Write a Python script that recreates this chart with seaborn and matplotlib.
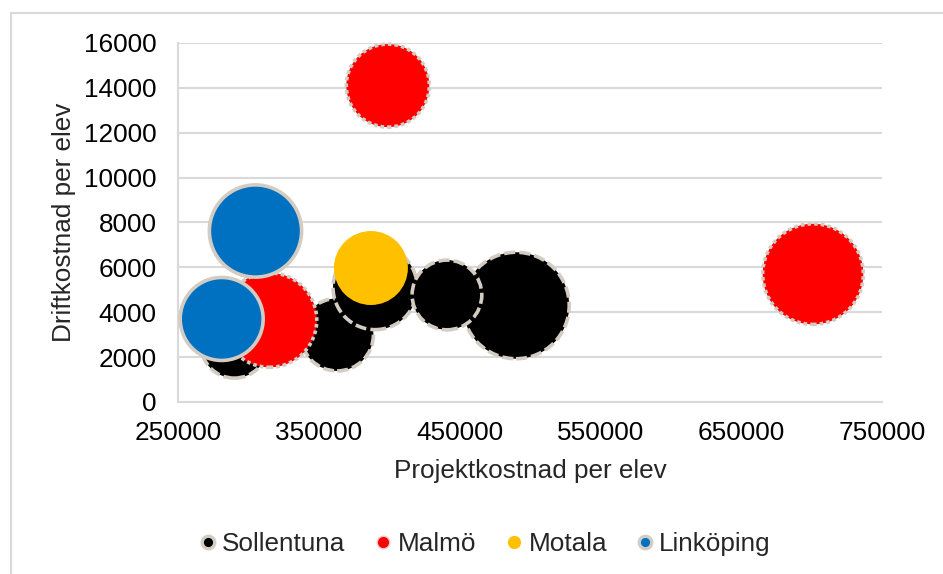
import matplotlib
matplotlib.use("Agg")
import matplotlib.pyplot as plt
from matplotlib.lines import Line2D
import seaborn as sns
import pandas as pd

# Project cost per pupil (x), running cost per pupil (y) and pupil count (bubble area)
sollentuna_projekt = [490000, 290000, 363000, 390000, 441000]
sollentuna_drift = [4300, 2550, 3000, 5100, 4770]
sollentuna_elever = [2800, 1100, 1300, 1750, 1200]

malmo_projekt = [399000, 701000, 315000]
malmo_drift = [14100, 5700, 3650]
malmo_elever = [1700, 2500, 2200]

motala_projekt = [387000]
motala_drift = [5970]
motala_elever = [1350]

linkoping_projekt = [305000, 281000]
linkoping_drift = [7620, 3700]
linkoping_elever = [2100, 1700]

kommuner = ["Sollentuna", "Malmö", "Motala", "Linköping"]
farger = ["#000000", "#ff0000", "#ffc000", "#0070c0"]
x_ticks = [250000, 350000, 450000, 550000, 650000, 750000]
y_ticks = [0, 2000, 4000, 6000, 8000, 10000, 12000, 14000, 16000]

sns.set_style("white")
plt.rcParams["font.family"] = ["Liberation Sans", "DejaVu Sans"]
plt.rcParams["lines.scale_dashes"] = False

EDGE = "#d2ccc3"
GRID = "#d9d9d9"
FS = 18.8
LW = 2.6

fig = plt.figure(figsize=(9.43, 5.74), dpi=100)
ax = fig.add_axes([0.1888, 0.2997, 0.9353 - 0.1888, 0.9251 - 0.2997])

# bubble outlines: long dashes for Sollentuna, square dots for Malmö (lengths in points)
serier = [
    (sollentuna_projekt, sollentuna_drift, sollentuna_elever, (0, (8.0, 3.0))),
    (malmo_projekt, malmo_drift, malmo_elever, (0, (2.6, 2.2))),
    (motala_projekt, motala_drift, motala_elever, None),
    (linkoping_projekt, linkoping_drift, linkoping_elever, "solid"),
]

for namn, farg, (px, dy, el, stil) in zip(kommuner, farger, serier):
    df = pd.DataFrame({"Projektkostnad": px, "Driftkostnad": dy, "Elever": el})
    sns.scatterplot(data=df, x="Projektkostnad", y="Driftkostnad", size="Elever",
                    sizes=(0, 6300), size_norm=(0, 3000), color=farg,
                    alpha=1, legend=False, ax=ax, zorder=3, clip_on=False,
                    edgecolor=EDGE if stil else "none", linewidth=LW if stil else 0,
                    linestyle=stil if stil else "solid")

ax.set_xlim(x_ticks[0], x_ticks[-1])
ax.set_ylim(y_ticks[0], y_ticks[-1])
ax.set_xticks(x_ticks)
ax.set_yticks(y_ticks)
ax.set_xticklabels([str(v) for v in x_ticks], fontsize=FS)
ax.set_yticklabels([str(v) for v in y_ticks], fontsize=FS)
ax.yaxis.grid(True, color=GRID, linewidth=1.5, zorder=0)
ax.xaxis.grid(False)
ax.set_axisbelow(True)
for side in ["top", "right"]:
    ax.spines[side].set_visible(False)
for side in ["left", "bottom"]:
    ax.spines[side].set_color(GRID)
    ax.spines[side].set_linewidth(1.5)
ax.tick_params(axis="both", which="major", direction="out", length=4.5, width=1.1,
               color=GRID, labelcolor="black")
ax.tick_params(axis="y", pad=11)
ax.tick_params(axis="x", pad=9)
ax.set_xlabel("Projektkostnad per elev", fontsize=FS, labelpad=10)
ax.set_ylabel("Driftkostnad per elev", fontsize=FS, labelpad=6)

handles = [
    Line2D([], [], linestyle="", marker="o", markersize=9, markerfacecolor="#000000",
           markeredgecolor=EDGE, markeredgewidth=2.4),
    Line2D([], [], linestyle="", marker="o", markersize=9, markerfacecolor="#ff0000",
           markeredgecolor="#f4c9c9", markeredgewidth=1.0),
    Line2D([], [], linestyle="", marker="o", markersize=9.5, markerfacecolor="#ffc000",
           markeredgewidth=0),
    Line2D([], [], linestyle="", marker="o", markersize=9, markerfacecolor="#0070c0",
           markeredgecolor=EDGE, markeredgewidth=2.4),
]
fig.legend(handles, kommuner, loc="center", bbox_to_anchor=(0.512, 0.052), ncol=4,
           frameon=False, fontsize=FS, handletextpad=0.05, columnspacing=0.95,
           handlelength=1.0)

# chart frame: left and top edges
fy = 1 - 13 / 574
fx = 11 / 943
fig.add_artist(Line2D([fx, fx], [0, fy], transform=fig.transFigure, color=GRID, linewidth=1.5))
fig.add_artist(Line2D([fx, 1], [fy, fy], transform=fig.transFigure, color=GRID, linewidth=1.5))

fig.savefig("out.png", dpi=100, facecolor="white")
